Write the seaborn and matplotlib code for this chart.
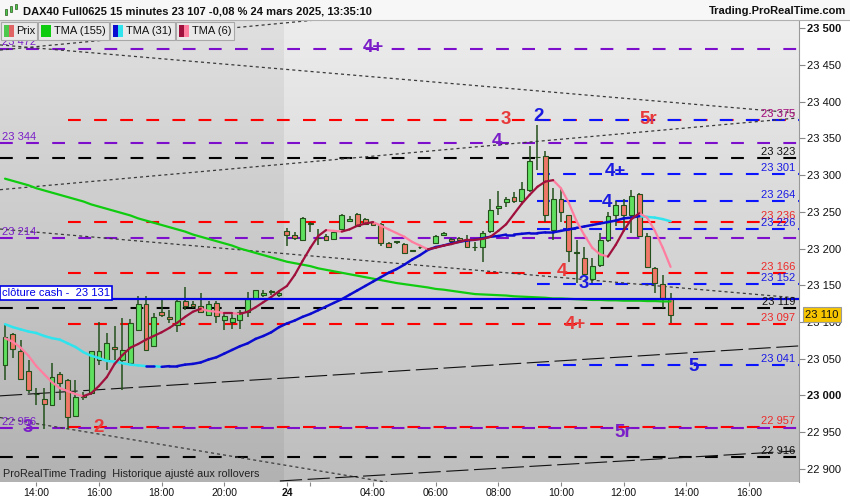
import numpy as np
import pandas as pd
import seaborn as sns
import matplotlib
matplotlib.use("Agg")
import matplotlib.pyplot as plt
from matplotlib.colors import LinearSegmentedColormap
from matplotlib.patches import Rectangle
import matplotlib.transforms as mtrans

# ---------------- data (15-minute candles, index 0 = 13:00 on the 21st) ----------------
opens = [23042, 23083, 23061, 23033, 23002, 22995, 22987, 23029, 23021, 22972,
         23001, 23003, 23048, 23048, 23066, 23048, 23044, 23089, 23125, 23067,
         23114, 23107, 23096, 23128, 23124, 23122, 23110, 23126, 23103, 23100,
         23103, 23114, 23131, 23137, 23141, 23137,
         23224, 23219, 23212, 23235, 23214, 23217, 23213, 23227, 23237, 23247,
         23240, 23236, 23233, 23208, 23209, 23206, 23197, 23202, 23199, 23208,
         23218, 23213, 23214, 23211, 23202, 23202, 23224, 23255, 23263, 23270,
         23265, 23279, 23325, 23326, 23225, 23267, 23245, 23194, 23187, 23159,
         23177, 23212, 23246, 23259, 23246, 23274, 23217, 23174, 23152, 23131]
highs = [23096, 23085, 23075, 23048, 23010, 23010, 23044, 23032, 23023, 23021,
         23005, 23061, 23100, 23085, 23094, 23105, 23104, 23136, 23135, 23112,
         23132, 23116, 23130, 23148, 23128, 23139, 23128, 23128, 23114, 23112,
         23116, 23141, 23144, 23144, 23143, 23141,
         23228, 23222, 23243, 23236, 23227, 23220, 23223, 23247, 23244, 23248,
         23241, 23238, 23235, 23209, 23210, 23207, 23198, 23203, 23201, 23218,
         23222, 23214, 23216, 23218, 23209, 23224, 23267, 23278, 23270, 23277,
         23291, 23339, 23368, 23332, 23282, 23282, 23246, 23211, 23202, 23187,
         23221, 23249, 23264, 23267, 23279, 23275, 23221, 23175, 23164, 23139]
lows = [23021, 23051, 23021, 23003, 22987, 22954, 22987, 22994, 22955, 22971,
        22994, 23001, 23041, 23035, 23048, 23007, 23044, 23088, 23062, 23066,
        23107, 23098, 23087, 23117, 23119, 23112, 23109, 23098, 23089, 23091,
        23090, 23107, 23130, 23134, 23137, 23134,
        23204, 23212, 23211, 23223, 23205, 23210, 23212, 23226, 23236, 23230,
        23233, 23230, 23204, 23202, 23206, 23194, 23196, 23200, 23197, 23207,
        23217, 23208, 23210, 23201, 23197, 23182, 23221, 23245, 23257, 23262,
        23262, 23277, 23307, 23236, 23212, 23236, 23182, 23153, 23162, 23153,
        23175, 23209, 23230, 23227, 23221, 23216, 23175, 23140, 23119, 23098]
closes = [23080, 23063, 23023, 23007, 23002, 22988, 23025, 23017, 22971, 22998,
          22998, 23060, 23060, 23071, 23063, 23062, 23098, 23125, 23062, 23107,
          23110, 23104, 23128, 23122, 23122, 23114, 23125, 23108, 23108, 23105,
          23114, 23131, 23143, 23140, 23141, 23139,
          23219, 23214, 23242, 23234, 23214, 23211, 23222, 23246, 23240, 23231,
          23234, 23232, 23208, 23202, 23209, 23194, 23197, 23202, 23199, 23217,
          23221, 23210, 23212, 23202, 23202, 23221, 23252, 23258, 23267, 23264,
          23281, 23319, 23324, 23246, 23268, 23249, 23196, 23194, 23165, 23176,
          23212, 23244, 23259, 23246, 23272, 23217, 23175, 23153, 23132, 23110]

tma155 = [23295, 23292, 23289, 23286, 23282, 23279, 23276, 23273, 23270, 23267,
          23264, 23260, 23257, 23254, 23251, 23248, 23245, 23241, 23238, 23235,
          23232, 23229, 23226, 23223, 23219, 23216, 23213, 23210, 23207, 23204,
          23200, 23197, 23194, 23191, 23188, 23185,
          23182, 23180, 23178, 23176, 23173, 23171, 23169, 23167, 23165, 23163,
          23161, 23159, 23157, 23155, 23153, 23151.5, 23150, 23148.5, 23147, 23145,
          23144, 23142.5, 23141, 23139.5, 23138, 23137.5, 23137, 23136.5, 23136, 23135,
          23134.5, 23134, 23133.5, 23133, 23132, 23132, 23131.5, 23131, 23130.5, 23130,
          23130, 23129.5, 23129.5, 23129, 23129, 23129, 23128.5, 23128.5, 23128, 23128]
tma31 = [23097, 23093, 23090, 23087, 23085, 23081, 23078, 23076, 23071, 23066,
         23059, 23054, 23051, 23047, 23046, 23044, 23042, 23041, 23040, 23040,
         23039, 23040, 23040, 23042, 23043, 23045, 23049, 23052, 23057, 23062,
         23067, 23071, 23077, 23081, 23086, 23093,
         23098, 23102, 23107, 23111, 23116, 23121, 23126, 23131, 23137, 23143,
         23149, 23155, 23161, 23167, 23172, 23178, 23185, 23191, 23198, 23202,
         23204, 23207, 23209, 23211, 23212, 23214, 23216, 23217, 23219, 23219,
         23220, 23221, 23221, 23222, 23222, 23224, 23226, 23228, 23230, 23232,
         23234, 23236, 23238, 23241, 23242, 23244, 23243, 23242, 23240, 23237]
tma6 = [23078, 23073, 23065, 23054, 23040, 23029, 23018, 23010, 23006, 23002,
        22999, 23003, 23013, 23025, 23043, 23055, 23065, 23070, 23076, 23081,
        23086, 23092, 23099, 23107, 23114, 23118, 23115, 23114, 23112, 23112,
        23111, 23114, 23120, 23127, 23134, 23142,
        23149, 23164, 23183, 23201, 23217, 23225, 23224, 23223, 23226, 23231,
        23234, 23236, 23231, 23226, 23221, 23216, 23209, 23204, 23199, 23201,
        23204, 23206, 23209, 23212, 23212, 23213, 23216, 23224, 23233, 23247,
        23261, 23273, 23284, 23291, 23293, 23282, 23262, 23237, 23218, 23201,
        23192, 23189, 23205, 23224, 23240, 23248, 23242, 23224, 23201, 23175]

tick_pos = [4, 12, 20, 28, 36, 39, 47, 55, 63, 71, 79, 87, 95]
tick_labels = ["14:00", "16:00", "18:00", "20:00", "24", "", "04:00", "06:00",
               "08:00", "10:00", "12:00", "14:00", "16:00"]

level_prices = [23472, 23375, 23375, 23344, 23323, 23301, 23264, 23236, 23226,
                23214, 23166, 23152, 23119, 23097, 23041, 22957, 22956, 22916]
level_kinds = ["purple", "red", "blue", "purple", "black", "blue", "blue", "red", "blue",
               "purple", "red", "blue", "black", "red", "blue", "red", "purple", "black"]
level_texts = ["23 472", "23 375", "", "23 344", "23 323", "23 301", "23 264", "23 236",
               "23 226", "23 214", "23 166", "23 152", "23 119", "23 097", "23 041",
               "22 957", "22 956", "22 916"]
level_start = {"purple": -0.64, "black": -0.64, "red": 8.05, "blue": 68.0}

# trend lines: (x0, p0, x1, p1, style)
trend_x0 = [-0.64, -0.64, -0.64, -0.64, -0.64, -0.64, 35.1]
trend_p0 = [23477, 23280, 23226.5, 22970, 23470, 22999.5, 22883.7]
trend_x1 = [100.9, 101.2, 101.2, 48.8, 39.8, 101.3, 100.9]
trend_p1 = [23384.5, 23377.6, 23132.7, 22882, 23511, 23067.4, 22924.5]
trend_style = ["dot", "dot", "dot", "dot", "dot", "long", "long"]

wave_texts = ["4+", "3", "2", "5r", "4", "4+", "4", "4", "3", "4+", "5", "3", "2", "5r"]
wave_kinds = ["purple", "red", "blue", "red", "purple", "blue", "blue", "red", "blue",
              "red", "blue", "purple", "red", "purple"]
wave_x = [47.0, 63.9, 68.1, 82.1, 62.8, 77.9, 76.9, 71.1, 73.9, 72.8, 87.9, 2.9, 11.9, 78.9]
wave_p = [23473, 23376, 23379, 23376, 23345, 23305, 23263, 23169, 23152, 23096, 23039,
          22956, 22956, 22950]

cash_close = 23131
last_price = 23110

# ---------------- style ----------------
sns.set_theme(style="white")
plt.rcParams["font.family"] = ["Liberation Sans", "DejaVu Sans"]
plt.rcParams["lines.scale_dashes"] = False

line_cols = {"purple": "#7d0fcc", "red": "#ff0000", "blue": "#0a14ff", "black": "#000000"}
text_cols = {"purple": "#7a1fc8", "red": "#ee2a2a", "blue": "#1a1ae6", "black": "#111111"}
wave_cols = {"purple": "#7a1fc8", "red": "#e83a3a", "blue": "#1a1ae0"}

W, H = 850, 500
fig = plt.figure(figsize=(W / 100, H / 100), dpi=100, facecolor="white")
ax = fig.add_axes([0, 1 - 482 / H, 799 / W, 462 / H])

XL = (-0.64, 101.4)
YL = (22882.3, 23510.9)

# background gradient
bg = LinearSegmentedColormap.from_list("bg", ["#ededed", "#bdbdbd"])
ax.imshow(np.linspace(0, 1, 256).reshape(-1, 1), cmap=bg, aspect="auto",
          extent=[0, 1, 0, 1], transform=ax.transAxes, zorder=0)
ax.axvspan(XL[0], 35.6, color="black", alpha=0.055, lw=0, zorder=0.5)

# horizontal levels
for p, k, t in zip(level_prices, level_kinds, level_texts):
    x0 = level_start[k]
    ax.hlines(p, x0, XL[1], colors=line_cols[k], lw=1.5,
              linestyles=(0, (9.2, 9.6)), zorder=1.5)
    if not t:
        continue
    if k == "purple":
        ax.annotate(t, (XL[0], p), xytext=(1.5, 0.8), textcoords="offset points",
                    ha="left", va="bottom", color=text_cols[k], fontsize=8, zorder=6)
    else:
        ax.annotate(t, (100.9, p), xytext=(0, 0.8), textcoords="offset points",
                    ha="right", va="bottom", color=text_cols[k], fontsize=8, zorder=6)
ax.annotate("23 375", (100.9, 23375), xytext=(0, 0.8), textcoords="offset points",
            ha="right", va="bottom", color=text_cols["purple"], alpha=0.7, fontsize=8, zorder=6)

# trend lines
for x0, p0, x1, p1, st in zip(trend_x0, trend_p0, trend_x1, trend_p1, trend_style):
    if st == "dot":
        ax.plot([x0, x1], [p0, p1], color="#3a3a3a", lw=0.9, ls=(0, (2.2, 2.2)), zorder=1.6)
    else:
        ax.plot([x0, x1], [p0, p1], color="#111111", lw=0.8, ls=(0, (16, 4)), zorder=1.6)

# cash close line
ax.axhline(cash_close, color="#0000e6", lw=1.6, zorder=4.5)
ax.annotate("clôture cash -  23 131", (XL[0], cash_close), xytext=(1.5, 1.2),
            textcoords="offset points", ha="left", va="bottom", color="#0000e6", fontsize=8,
            zorder=7, bbox=dict(boxstyle="square,pad=0.18", fc="white", ec="#0000e6", lw=1.2))

# candles
idx = np.arange(len(opens))
edge = "#24501c"
for i, o, h, l, c in zip(idx, opens, highs, lows, closes):
    ax.vlines(i, l, h, color=edge, lw=1.1, zorder=3)
    lo, hi = min(o, c), max(o, c)
    col = "#5fe05f" if c > o else ("#f07868" if c < o else edge)
    ax.bar(i, max(hi - lo, 0.7), bottom=lo, width=0.62, color=col, edgecolor=edge,
           linewidth=0.8, zorder=3.2)

# moving averages
sns.lineplot(x=idx, y=tma155, color="#10cc10", lw=1.6, ax=ax, zorder=4)


def segments(vals):
    rows = []
    for k in range(len(vals) - 1):
        d = "up" if vals[k + 1] >= vals[k] else "down"
        rows.append((k, k, vals[k], d))
        rows.append((k, k + 1, vals[k + 1], d))
    return pd.DataFrame(rows, columns=["seg", "x", "v", "dir"])


sns.lineplot(data=segments(tma31), x="x", y="v", units="seg", hue="dir", estimator=None,
             palette={"up": "#0a0ad0", "down": "#30e4ee"}, lw=1.8, legend=False, ax=ax,
             zorder=4.2, solid_capstyle="round")
sns.lineplot(data=segments(tma6), x="x", y="v", units="seg", hue="dir", estimator=None,
             palette={"up": "#a0103c", "down": "#ff7ea0"}, lw=1.6, legend=False, ax=ax,
             zorder=4.3, solid_capstyle="round")

# wave labels
for t, k, x, p in zip(wave_texts, wave_kinds, wave_x, wave_p):
    ax.text(x, p, t, color=wave_cols[k], fontsize=13.5, fontweight="bold",
            ha="center", va="center", zorder=6)

ax.text(0.004, 22887, "ProRealTime Trading  Historique ajusté aux rollovers",
        transform=mtrans.blended_transform_factory(ax.transAxes, ax.transData),
        fontsize=7.8, color="#222222", ha="left", va="bottom", zorder=6)

# axes
ax.set_xlim(*XL)
ax.set_ylim(*YL)
ax.set_xlabel("")
ax.set_ylabel("")
ax.yaxis.tick_right()
yt = np.arange(22900, 23501, 50)
ax.set_yticks(yt)
ax.set_yticklabels([f"{v // 1000} {v % 1000:03d}" for v in yt])
for lab, v in zip(ax.get_yticklabels(), yt):
    if v % 500 == 0:
        lab.set_fontweight("bold")
ax.set_xticks(tick_pos)
ax.set_xticklabels(tick_labels)
for lab in ax.get_xticklabels():
    if lab.get_text() == "24":
        lab.set_fontweight("bold")
ax.tick_params(axis="y", right=True, length=4, width=0.8, color="#888888", pad=1.5,
               labelsize=8, labelcolor="#111111")
ax.tick_params(axis="x", bottom=True, length=3, width=0.8, color="#888888", pad=1.5,
               labelsize=7.5, labelcolor="#111111")
for s in ["top", "left", "bottom"]:
    ax.spines[s].set_visible(False)
ax.spines["right"].set_color("#999999")
ax.spines["right"].set_linewidth(0.8)
ax.grid(False)

# last price tag
bt = mtrans.blended_transform_factory(ax.transAxes, ax.transData)
ax.text(1.008, last_price, "23 110", transform=bt, ha="left", va="center", fontsize=8,
        color="#111111", zorder=10, clip_on=False,
        bbox=dict(boxstyle="square,pad=0.2", fc="#f7c600", ec="#9a9a9a", lw=0.8))


# header and legend
def fx(x):
    return x / W


def fy(y):
    return 1 - y / H


fig.patches.append(Rectangle((0, fy(20)), 1, 20 / H, transform=fig.transFigure,
                             fc="#f7f7f7", ec="none", zorder=0))
fig.add_artist(plt.Line2D([0, 1], [fy(20), fy(20)], color="#b0b0b0", lw=0.8))
for (x0, y0, x1, y1) in [(5, 9, 7, 15), (10, 6, 12, 12), (15, 4, 17, 9)]:
    fig.patches.append(Rectangle((fx(x0), fy(y1)), (x1 - x0) / W, (y1 - y0) / H,
                                 transform=fig.transFigure, fc="#4cc84c", ec="#2b5a1c", lw=0.5))
fig.text(fx(23), fy(11), "DAX40 Full0625 15 minutes 23 107 -0,08 % 24 mars 2025, 13:35:10",
         fontsize=8, fontweight="bold", color="#111111", ha="left", va="center")
fig.text(fx(846), fy(11), "Trading.ProRealTime.com", fontsize=8, fontweight="bold",
         color="#111111", ha="right", va="center")

legend_boxes = [(1, 37, "Prix", ["#4cc84c", "#e06464"]),
                (38, 109, "TMA (155)", ["#10cc10"]),
                (110, 175, "TMA (31)", ["#0a0ad0", "#30e4ee"]),
                (176, 234, "TMA (6)", ["#a0103c", "#ff7ea0"])]
for x0, x1, name, cols in legend_boxes:
    fig.patches.append(Rectangle((fx(x0), fy(39.5)), (x1 - x0) / W, 17 / H,
                                 transform=fig.transFigure, fc="#e9e9e9", ec="#a8a8a8",
                                 lw=0.8, zorder=5))
    n = len(cols)
    for j, c in enumerate(cols):
        fig.patches.append(Rectangle((fx(x0 + 2.5 + j * 10 / n), fy(36.5)), (10 / n) / W, 11 / H,
                                     transform=fig.transFigure, fc=c, ec="none", zorder=6))
    fig.text(fx(x0 + 15.5), fy(31), name, fontsize=8, color="#111111", ha="left",
             va="center", zorder=7)

fig.savefig("out.png", dpi=100, facecolor="white")
